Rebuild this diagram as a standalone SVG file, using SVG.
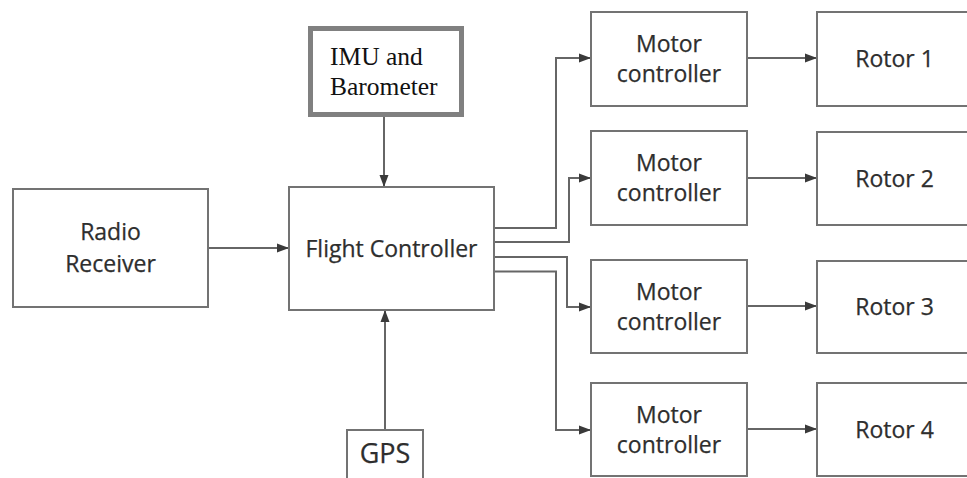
<svg xmlns="http://www.w3.org/2000/svg" width="967" height="478" viewBox="0 0 967 478">
  <style>
    .box { fill: #ffffff; stroke: #737373; stroke-width: 2; }
    .box-heavy { fill: #ffffff; stroke: #808080; stroke-width: 5; }
    .lbl { font-family: "Open Sans", "Liberation Sans", sans-serif; font-size: 23px; fill: #2e2e2e; text-anchor: middle; stroke: #2e2e2e; stroke-width: 0.25; }
    .serif { font-family: "Liberation Serif", "Times New Roman", serif; font-size: 25.5px; fill: #111111; }
    .wire { fill: none; stroke: #666666; stroke-width: 2; marker-end: url(#arrow); }
  </style>
  <defs>
    <marker id="arrow" markerUnits="userSpaceOnUse" markerWidth="13" markerHeight="11" refX="12" refY="5.5" orient="auto">
      <path d="M0,1 L12,5.5 L0,10 Z" fill="#3a3a3a"/>
    </marker>
  </defs>

  <rect width="967" height="478" fill="#ffffff"/>

  <g id="connectors">
    <path class="wire" d="M208 248 H289"/>
    <path class="wire" d="M384 117 V187"/>
    <path class="wire" d="M385 430 V310"/>
    <path class="wire" d="M494 228 H556 V58 H591"/>
    <path class="wire" d="M494 242 H569 V178 H591"/>
    <path class="wire" d="M494 257 H567 V307 H591"/>
    <path class="wire" d="M494 271.5 H556 V430 H591"/>
    <path class="wire" d="M747 58 H817"/>
    <path class="wire" d="M747 178 H817"/>
    <path class="wire" d="M747 306 H817"/>
    <path class="wire" d="M747 429 H817"/>
  </g>

  <g id="radio-receiver">
    <rect class="box" x="13" y="189" width="195" height="118"/>
    <text class="lbl" x="110.5" y="240">Radio</text>
    <text class="lbl" x="110.5" y="272">Receiver</text>
  </g>

  <g id="imu-barometer">
    <rect class="box-heavy" x="310.5" y="28.5" width="151" height="86"/>
    <text class="serif" x="330" y="65">IMU and</text>
    <text class="serif" x="330" y="95">Barometer</text>
  </g>

  <g id="flight-controller">
    <rect class="box" x="289" y="187" width="205" height="123"/>
    <text class="lbl" x="391.5" y="257">Flight Controller</text>
  </g>

  <g id="gps">
    <rect class="box" x="347" y="430" width="76" height="60"/>
    <text class="lbl" x="385" y="463" style="font-size:27px">GPS</text>
  </g>

  <g id="motor-controller-1">
    <rect class="box" x="591" y="12" width="156" height="94"/>
    <text class="lbl" x="669" y="52">Motor</text>
    <text class="lbl" x="669" y="82">controller</text>
  </g>
  <g id="motor-controller-2">
    <rect class="box" x="591" y="131" width="156" height="94"/>
    <text class="lbl" x="669" y="171">Motor</text>
    <text class="lbl" x="669" y="201">controller</text>
  </g>
  <g id="motor-controller-3">
    <rect class="box" x="591" y="260" width="156" height="93"/>
    <text class="lbl" x="669" y="299.5">Motor</text>
    <text class="lbl" x="669" y="329.5">controller</text>
  </g>
  <g id="motor-controller-4">
    <rect class="box" x="591" y="383" width="156" height="93"/>
    <text class="lbl" x="669" y="422.5">Motor</text>
    <text class="lbl" x="669" y="452.5">controller</text>
  </g>

  <g id="rotor-1">
    <rect class="box" x="817" y="12" width="160" height="94"/>
    <text class="lbl" x="894.5" y="67">Rotor 1</text>
  </g>
  <g id="rotor-2">
    <rect class="box" x="817" y="132" width="160" height="93"/>
    <text class="lbl" x="894.5" y="186.5">Rotor 2</text>
  </g>
  <g id="rotor-3">
    <rect class="box" x="817" y="261" width="160" height="92"/>
    <text class="lbl" x="894.5" y="315">Rotor 3</text>
  </g>
  <g id="rotor-4">
    <rect class="box" x="817" y="383" width="160" height="93"/>
    <text class="lbl" x="894.5" y="437.5">Rotor 4</text>
  </g>
</svg>
